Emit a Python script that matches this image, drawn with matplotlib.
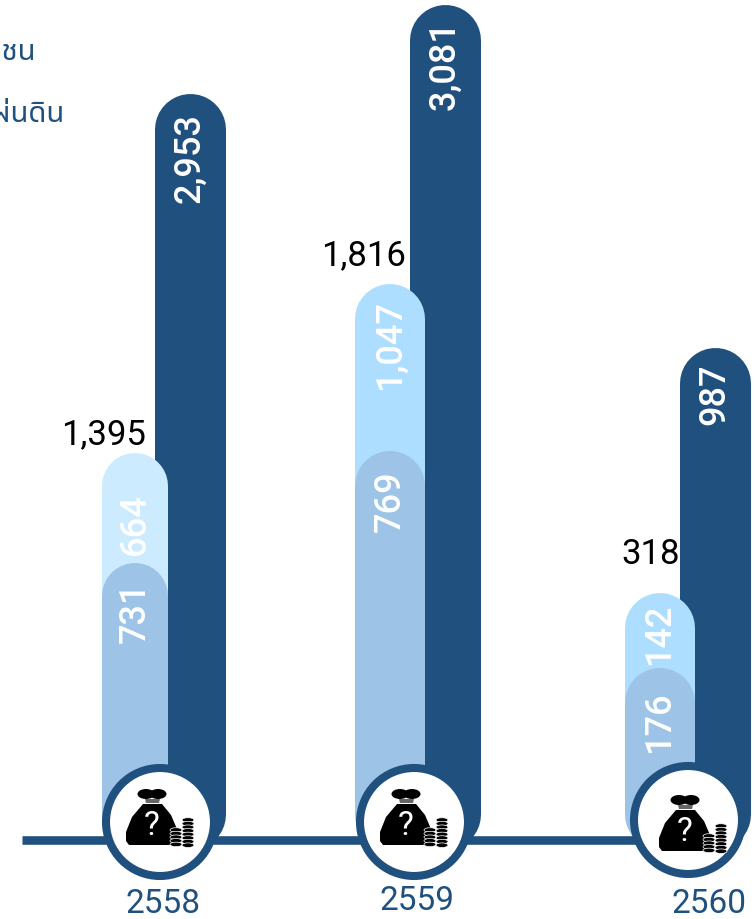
import matplotlib

matplotlib.use("Agg")

import matplotlib.pyplot as plt
from matplotlib.patches import Circle, Ellipse, Polygon

years = ["2558", "2559", "2560"]
totals = ["1,395", "1,816", "318"]
upper_labels = ["664", "1,047", "142"]
lower_labels = ["731", "769", "176"]
land_labels = ["2,953", "3,081", "987"]
legend_names = ["เอกชน", "แผ่นดิน"]

# drawn heights (the bars are not to scale with their labels)
upper_heights = [396, 565, 256]
lower_heights = [286, 398, 181]
land_heights = [756, 845, 502]

BASE_Y = 850
DARK = "#20507E"
MID = "#9DC3E6"
LIGHTS = ["#CCEBFF", "#ADDEFF", "#ADDEFF"]
FONT = ["Roboto", "DejaVu Sans"]

left_x = [102, 355, 625]
left_w = [66, 70, 70]
land_x = [154, 409, 679]
land_w = [71, 71, 71]
circle_x = [160, 414, 688]
circle_y = [823, 823, 821]
icon_x = [152, 406, 685]
icon_y = [826, 826, 832]


def pill(axis, x, width, height, color, zorder):
    centre = x + width / 2
    axis.plot(
        [centre, centre],
        [BASE_Y - height + width / 2, BASE_Y - width / 2],
        color=color,
        lw=width * 0.72,
        solid_capstyle="round",
        zorder=zorder,
    )


def bag_icon(axis, qx, qy):
    axis.add_patch(Polygon(
        [(qx - 9, qy - 21), (qx + 10, qy - 21), (qx + 19, qy - 10), (qx + 25, qy + 4),
         (qx + 25, qy + 20), (qx - 23, qy + 20), (qx - 26, qy + 16), (qx - 26, qy + 7),
         (qx - 20, qy - 8)],
        closed=True,
        facecolor="black",
        zorder=8,
    ))
    axis.add_patch(Ellipse((qx - 6, qy - 31), 17, 10, facecolor="black", zorder=8))
    axis.add_patch(Ellipse((qx + 6, qy - 31), 17, 10, facecolor="black", zorder=8))
    axis.add_patch(Polygon(
        [(qx - 7, qy - 26), (qx + 8, qy - 26), (qx + 7, qy - 22), (qx - 6, qy - 22)],
        closed=True, facecolor="#666666", zorder=8,
    ))
    axis.text(qx, qy, "?", color="white", fontsize=24, ha="center", va="center",
              family=FONT, zorder=9)
    for dx, top, count in [(24, 5, 5), (36, -5, 8)]:
        for i in range(count):
            axis.add_patch(Ellipse((qx + dx, qy + top + i * 3.6), 12, 4.5, facecolor="black",
                                   edgecolor="white", linewidth=0.5, zorder=10))


figure = plt.figure(figsize=(7.55, 9.2), dpi=100)
axis = figure.add_axes([0, 0, 1, 1])
axis.set_xlim(0, 755)
axis.set_ylim(920, 0)
axis.axis("off")

axis.plot([22, 650], [841, 841], color=DARK, lw=6.2, solid_capstyle="butt", zorder=1)

for i in range(3):
    pill(axis, land_x[i], land_w[i], land_heights[i], DARK, 2)
    pill(axis, left_x[i], left_w[i], upper_heights[i], LIGHTS[i], 3)
    pill(axis, left_x[i], left_w[i], lower_heights[i], MID, 4)
    axis.add_patch(Circle((circle_x[i], circle_y[i]), 54, facecolor="white", edgecolor=DARK,
                          linewidth=5.8, zorder=6))
    bag_icon(axis, icon_x[i], icon_y[i])

label_font = dict(color="white", rotation=90, ha="center", va="center", fontsize=26,
                  family=FONT, fontweight="medium", zorder=7)
upper_y = [524, 345, 634]
lower_y = [612, 501, 722]
land_y = [158, 65, 394]
for i in range(3):
    axis.text(left_x[i] + left_w[i] / 2, upper_y[i], upper_labels[i], **label_font)
    axis.text(left_x[i] + left_w[i] / 2, lower_y[i], lower_labels[i], **label_font)
    axis.text(land_x[i] + land_w[i] / 2, land_y[i], land_labels[i], **label_font)

total_x = [104, 364, 651]
total_y = [435, 256, 555]
for i in range(3):
    axis.text(total_x[i], total_y[i], totals[i], color="black", fontsize=25, ha="center",
              va="center", family=FONT)

year_x = [163, 417, 709]
year_y = [904, 901, 904]
for i in range(3):
    axis.text(year_x[i], year_y[i], years[i], color=DARK, fontsize=24, ha="center",
              va="center", family=FONT)

axis.text(36, 53, legend_names[0], color=DARK, fontsize=21, ha="right", va="center",
          family=["Noto Sans Thai", "DejaVu Sans"], zorder=5)
axis.text(64, 114, legend_names[1], color=DARK, fontsize=21, ha="right", va="center",
          family=["Noto Sans Thai", "DejaVu Sans"], zorder=5)

figure.savefig("out.png", dpi=100)
plt.close(figure)
